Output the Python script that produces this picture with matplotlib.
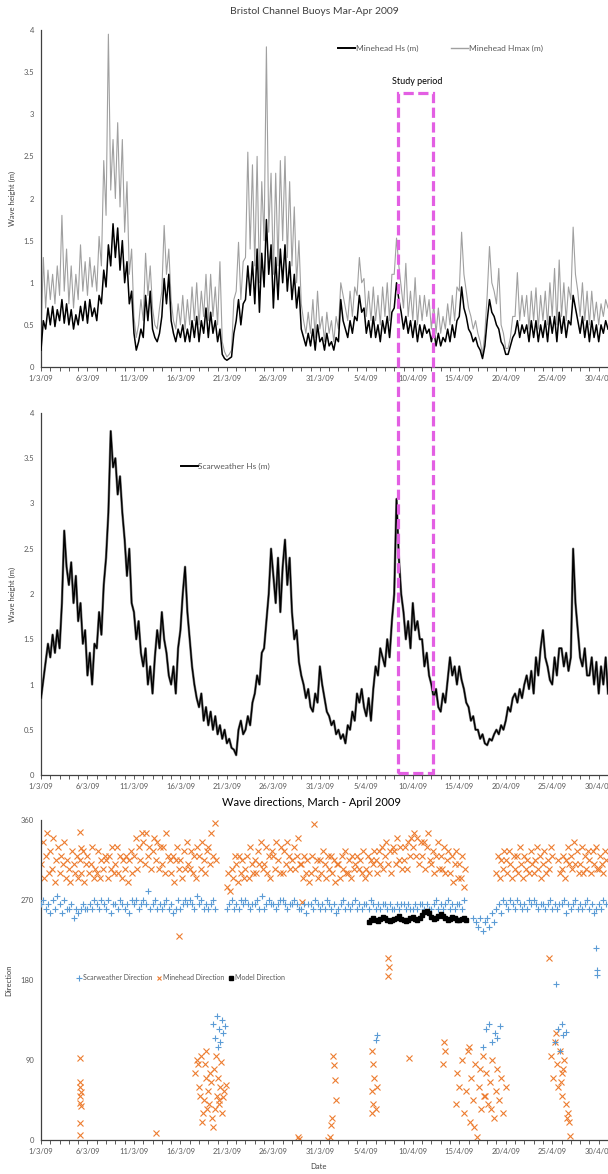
import numpy as np
import matplotlib
matplotlib.use("Agg")
import matplotlib.pyplot as plt
from matplotlib.patches import Rectangle
from matplotlib.lines import Line2D
import matplotlib.transforms as mtransforms

plt.rcParams['font.family'] = ['Lato', 'DejaVu Sans']

# ---------------- DATA ----------------
tick_days = [0, 5, 10, 15, 20, 25, 30, 35, 40, 45, 50, 55, 60]
tick_labels = ["1/3/09", "6/3/09", "11/3/09", "16/3/09", "21/3/09", "26/3/09", "31/3/09",
               "5/4/09", "10/4/09", "15/4/09", "20/4/09", "25/4/09", "30/4/09"]

# Minehead Hs (m), 4 samples per day from 1 Mar
minehead_hs = [
    .20, .55, .45, .70,  .50, .72, .48, .68,  .55, .80, .52, .75,  .50, .68, .45, .62,
    .50, .72, .55, .78,  .52, .80, .60, .70,  .55, .85, .75, 1.15, .95, 1.45, 1.20, 1.70,
    1.30, 1.65, 1.15, 1.50, 1.00, 1.25, .75, .90, .40, .20, .30, .45, .35, .85, .55, .90,
    .45, .35, .30, .40,  .60, 1.05, .75, 1.10, .55, .40, .30, .45, .35, .50, .30, .45,
    .30, .55, .35, .60,  .30, .55, .40, .70,  .35, .65, .40, .55,  .30, .45, .15, .10,
    .08, .10, .12, .40,  .55, .80, .50, .75,  .80, 1.20, .85, 1.25, .75, 1.40, .65, 1.35,
    .95, 1.75, 1.10, 1.45, .70, 1.30, .80, 1.40, 1.00, 1.45, .90, 1.25, .80, 1.10, .70, .95,
    .45, .35, .25, .40,  .25, .45, .20, .50,  .30, .35, .20, .40,  .25, .30, .20, .35,
    .30, .80, .55, .45,  .35, .55, .40, .60,  .55, .85, .65, .70,  .40, .55, .35, .60,
    .35, .50, .30, .55,  .40, .60, .35, .65,  .70, 1.00, .80, .65, .45, .60, .40, .55,
    .35, .55, .30, .50,  .35, .50, .40, .45,  .30, .45, .25, .40,  .25, .35, .30, .45,
    .30, .50, .35, .55,  .60, .95, .70, .60,  .45, .40, .30, .35,  .25, .20, .10, .25,
    .55, .80, .65, .60,  .50, .45, .30, .25,  .15, .15, .25, .35,  .40, .55, .35, .50,
    .40, .50, .30, .55,  .35, .55, .30, .50,  .35, .55, .30, .60,  .40, .60, .30, .65,
    .40, .60, .35, .55,  .50, .85, .70, .55,  .40, .60, .35, .55,  .30, .55, .35, .50,
    .30, .50, .40, .55,  .45]

# Minehead Hmax (m), 4 samples per day
minehead_hmax = [
    .30, 1.30, .70, 1.15, .80, 1.10, .75, 1.20, .85, 1.80, .90, 1.40, .75, 1.20, .70, 1.10,
    .80, 1.45, .90, 1.25, .85, 1.30, .95, 1.20, .90, 1.55, 1.20, 2.45, 1.80, 3.95, 2.10, 2.70,
    2.00, 2.90, 1.90, 2.70, 1.60, 2.20, 1.10, 1.40, .60, .35, .50, .80, .55, 1.35, .85, 1.20,
    .70, .50, .45, .70,  .90, 1.68, 1.10, 1.40, .80, .55, .45, .75, .50, .85, .45, .80,
    .50, .95, .55, 1.00, .50, .90, .60, 1.10, .55, 1.10, .60, .95, .50, 1.25, .30, .18,
    .12, .15, .20, .80,  .90, 1.48, .80, 1.25, 1.30, 2.55, 1.40, 2.40, 1.20, 2.50, 1.00, 2.20,
    1.50, 3.80, 1.60, 2.30, 1.10, 2.30, 1.20, 2.45, 1.50, 2.50, 1.30, 2.20, 1.20, 1.90, 1.00, 1.50,
    .75, .55, .40, .65,  .40, .80, .35, .90,  .45, .60, .30, .65,  .40, .55, .30, .60,
    .45, 1.00, .85, .70, .55, .90, .60, .95,  .85, 1.30, 1.00, 1.05, .60, .90, .55, .95,
    .55, .85, .50, .95,  .60, 1.00, .55, 1.10, 1.10, 1.53, 1.20, .95, .70, 1.23, .60, .90,
    .55, 1.06, .50, .85, .55, .85, .60, .80,  .45, .75, .40, .70,  .40, .60, .45, .75,
    .50, .85, .55, .95,  .90, 1.60, 1.10, .90, .70, .60, .45, .55,  .40, .30, .15, .40,
    .85, 1.43, 1.00, .90, .75, 1.17, .50, .40, .22, .22, .35, .60,  .60, 1.12, .55, .85,
    .60, .85, .45, .90,  .55, .94, .45, .85,  .55, .90, .50, 1.00, .60, 1.17, .50, 1.27,
    .60, 1.00, .55, .95, .80, 1.66, 1.10, .90, .60, 1.00, .55, .90, .50, .90, .55, .77,
    .50, .75, .60, .80,  .70]

# Scarweather Hs (m), 4 samples per day
scarweather_hs = [
    .85, 1.05, 1.25, 1.45, 1.30, 1.55, 1.35, 1.60, 1.40, 1.90, 2.70, 2.30, 2.10, 2.35, 1.90, 2.20,
    1.70, 1.90, 1.45, 1.60, 1.10, 1.35, 1.00, 1.45, 1.40, 1.80, 1.55, 2.10, 2.40, 2.90, 3.80, 3.40,
    3.50, 3.10, 3.30, 2.90, 2.60, 2.20, 2.50, 1.90, 1.80, 1.50, 1.70, 1.35, 1.20, 1.40, 1.00, 1.20,
    .90, 1.30, 1.60, 1.40, 1.80, 1.50, 1.35, 1.10, 1.00, 1.20, .90, 1.40, 1.60, 2.00, 2.30, 1.80,
    1.50, 1.20, 1.00, .85, .75, .90, .60, .75,  .55, .70, .50, .65,  .45, .55, .40, .50,
    .35, .40, .30, .28,  .22, .50, .60, .45,  .50, .65, .55, .80,  .90, 1.10, 1.00, 1.35,
    1.40, 1.70, 2.00, 2.50, 2.20, 1.90, 2.40, 1.80, 2.30, 2.60, 2.10, 2.40, 1.80, 1.50, 1.60, 1.25,
    1.10, 1.00, .85, .95, .75, .70, .90, .80,  1.20, 1.00, .85, .70, .65, .55, .60, .45,
    .50, .40, .45, .35,  .55, .50, .70, .60,  .90, .80, .95, .75,  .65, .85, .60, .95,
    1.20, 1.10, 1.40, 1.30, 1.20, 1.50, 1.30, 1.70, 2.00, 3.05, 2.40, 2.00, 1.80, 1.50, 1.70, 1.40,
    1.90, 1.60, 1.70, 1.50, 1.50, 1.20, 1.35, 1.10, 1.00, .85, .95, .75, .70, .90, .80, 1.05,
    1.30, 1.10, 1.20, 1.00, 1.20, 1.05, .95, .80, .75, .60, .65, .50,  .50, .40, .45, .35,
    .33, .40, .38, .45,  .50, .45, .55, .50,  .60, .75, .70, .85,  .90, .80, .95, .85,
    1.00, 1.10, .95, 1.15, .90, 1.30, 1.10, 1.40, 1.60, 1.30, 1.20, 1.05, 1.00, 1.30, 1.10, 1.40,
    1.40, 1.20, 1.35, 1.15, 1.30, 2.50, 1.90, 1.60, 1.30, 1.20, 1.40, 1.10, 1.10, 1.30, 1.00, 1.25,
    .90, 1.20, 1.00, 1.30, .90]

nan = float('nan')
# Minehead direction (deg), 6 samples per day
minehead_dir = [
    310, 335, 295, 320, 345, 300,  325, 305, 340, 290, 315, 330,  300, 320, 310, 335, 295, 315,
    305, 290, 325, 310, 300, 320,  295, 315, 300, 325, 290, 310,  320, 300, 310, 330, 295, 305,
    300, 325, 295, 315, 305, 320,  315, 295, 320, 305, 330, 300,  310, 330, 300, 320, 295, 315,
    305, 320, 290, 315, 325, 300,  320, 340, 305, 330, 315, 345,  335, 310, 345, 320, 330, 305,
    325, 340, 315, 335, 305, 330,  310, 330, 300, 345, 320, 315,  300, 320, 290, 315, 330, 305,
    315, 295, 325, 305, 335, 310,  305, 325, 300, 320, 295, 330,  320, 305, 335, 315, 300, 325,
    330, 310, 345, 320, 357, 315,  nan, nan, nan, nan, nan, nan,  285, 300, 280, 305, 295, 320,
    310, 290, 320, 300, 315, 295,  305, 320, 295, 330, 310, 300,  315, 300, 325, 310, 335, 305,
    310, 330, 300, 320, 295, 325,  320, 305, 335, 315, 300, 330,  300, 325, 310, 335, 320, 305,
    315, 330, 305, 320, 340, 310,  310, 295, 320, 300, 315, 290,  300, 320, 355, 305, 315, 295,
    315, 300, 325, 310, 295, 320,  305, 320, 300, 315, 290, 310,  310, 295, 320, 305, 325, 300,
    300, 315, 295, 320, 305, 310,  320, 305, 315, 300, 325, 295,  305, 320, 300, 315, 310, 325,
    315, 300, 325, 310, 330, 305,  320, 335, 310, 325, 300, 330,  325, 310, 340, 315, 330, 305,
    315, 330, 305, 335, 320, 340,  330, 345, 320, 340, 310, 335,  320, 335, 305, 330, 345, 315,
    310, 325, 300, 320, 335, 305,  320, 305, 330, 300, 315, 325,  300, 320, 290, 310, 325, 295,
    310, 295, 320, 285, 305, nan,  nan, nan, nan, nan, nan, nan,  nan, nan, nan, nan, nan, nan,
    nan, nan, nan, nan, nan, nan,  300, 320, 295, 315, 305, 325,  315, 300, 325, 310, 295, 320,
    305, 320, 300, 330, 310, 295,  320, 305, 315, 300, 325, 310,  300, 315, 330, 305, 320, 295,
    310, 325, 300, 315, 305, 330,  320, nan, nan, nan, 315, 300,  305, 320, 295, 315, 330, 310,
    320, 305, 335, 310, 325, 300,  310, 330, 300, 320, 305, 325,  315, 300, 325, 310, 330, 305,
    305, 320, 310, 300, 325, 315]

# Scarweather direction (deg), 4 samples per day
scarweather_dir = [
    265, 270, 260, 265,  255, 270, 260, 275,  265, 255, 270, 260,  260, 265, 250, 260,
    255, 260, 265, 260,  260, 265, 260, 270,  265, 260, 270, 265,  260, 270, 255, 265,
    265, 260, 270, 265,  260, 265, 255, 270,  265, 270, 260, 265,  270, 265, 280, 260,
    265, 270, 260, 265,  260, 265, 270, 260,  265, 255, 260, 270,  260, 265, 270, 265,
    270, 265, 260, 275,  265, 270, 260, 265,  260, 265, 270, 260,  nan, nan, nan, nan,
    260, 265, 270, 260,  265, 260, 270, 265,  270, 265, 260, 265,  265, 270, 260, 275,
    260, 265, 270, 265,  265, 260, 265, 270,  270, 265, 260, 265,  265, 270, 265, 260,
    260, 265, 255, 265,  265, 260, 270, 265,  260, 265, 260, 270,  265, 260, 265, 255,
    260, 265, 270, 260,  265, 260, 265, 270,  260, 265, 260, 265,  265, 260, 270, 265,
    260, 265, 260, 265,  265, 260, 265, 260,  260, 265, 260, 265,  265, 260, 265, 260,
    260, 265, 260, 265,  265, 260, 265, 260,  260, 265, 270, 260,  265, 260, 265, 270,
    260, 265, 260, 265,  265, 260, 270, nan,  nan, nan, 250, 245,  240, 250, 235, 245,
    250, 240, 255, 245,  260, 265, 255, 270,  265, 260, 270, 265,  260, 270, 265, 260,
    265, 260, 270, 265,  270, 265, 260, 265,  265, 260, 265, 270,  260, 265, 260, 265,
    265, 270, 255, 265,  260, 265, 270, 260,  265, 260, 265, 270,  260, 265, 255, 260,
    265, 260, 270, 265]

# Minehead direction outliers (day offset, deg)
minehead_low_day = [4.15, 4.2, 4.2, 4.25, 4.2, 4.15, 4.25, 4.2, 4.2, 4.2, 4.25,
                    12.4, 14.8,
                    16.6, 16.9, 17.0, 17.2, 17.4, 17.5, 17.7, 17.8, 18.0, 18.1,
                    18.3, 18.4, 18.6, 18.7, 18.9, 19.0, 19.2, 19.3, 19.5, 19.7,
                    16.8, 17.1, 17.3, 17.6, 17.9, 18.2, 18.5, 18.8, 19.1, 19.4, 19.6, 19.9,
                    27.6, 27.8, 28.1,
                    30.9, 31.1, 31.2, 31.3, 31.4, 31.5, 31.6, 31.7,
                    35.6, 35.7, 35.6, 35.8, 35.7, 35.6, 36.0, 36.1, 37.3, 37.4, 37.3,
                    39.6, 43.3, 43.5, 43.4,
                    44.6, 44.8, 45.0, 45.3, 45.5, 45.7, 45.9, 46.1, 46.3, 46.5,
                    46.7, 46.9, 47.1, 47.3, 47.5, 47.7, 47.9, 48.1, 48.3, 48.5,
                    48.7, 48.9, 49.1, 49.3, 49.5, 49.7, 50.0, 46.0, 46.6, 47.2, 47.8, 48.4,
                    54.7,
                    54.9, 55.1, 55.3, 55.5, 55.6, 55.8, 56.0, 56.1, 56.3, 56.5, 56.7, 56.9,
                    55.4, 55.9, 56.2, 56.6, 56.8]
minehead_low_dir = [92, 65, 60, 54, 50, 42, 38, 19, 6, 346, 328,
                    8, 230,
                    75, 85, 60, 95, 30, 45, 70, 100, 55, 40,
                    65, 25, 80, 35, 50, 70, 45, 60, 30, 55,
                    90, 50, 20, 85, 35, 75, 15, 95, 40, 88, 48, 62,
                    3, 1, 268,
                    0, 3, 17, 25, 95, 84, 67, 45,
                    30, 40, 55, 70, 85, 100, 35, 60, 185, 195, 205,
                    92, 85, 100, 110,
                    40, 75, 60, 90, 30, 55, 100, 20, 70, 45,
                    85, 3, 60, 35, 95, 50, 75, 40, 65, 90,
                    25, 55, 80, 45, 70, 30, 60, 105, 15, 80, 50, 35,
                    205,
                    95, 70, 110, 85, 60, 100, 75, 50, 90, 40, 30, 5,
                    120, 65, 80, 25, 20]

# Scarweather direction outliers (day offset, deg)
scarweather_low_day = [18.5, 18.7, 18.9, 19.0, 19.2, 19.3, 19.5, 19.6, 19.8,
                       36.0, 36.1,
                       47.6, 47.9, 48.2, 48.5, 48.8, 49.1, 49.4,
                       55.3, 55.6, 55.8, 56.0, 56.2, 56.5, 55.4,
                       59.7, 59.8, 59.8]
scarweather_low_dir = [130, 115, 140, 105, 125, 110, 135, 120, 128,
                       112, 118,
                       105, 125, 130, 110, 120, 115, 128,
                       110, 125, 100, 130, 118, 122, 175,
                       216, 191, 186]

# Model direction, 4 samples per day starting 5 Apr 06:00 (day 35.25)
model_start_day = 35.25
model_dir = [245, 247, 250, 248, 246, 249, 251, 250, 248, 246, 247, 249, 250, 252,
             249, 247, 246, 248, 250, 251, 249, 248, 250, 253, 256, 258, 255, 251,
             249, 250, 252, 254, 252, 250, 248, 249, 251, 250, 248, 247, 249, 250, 248]

study_start_day, study_end_day = 38.4, 42.15

# ---------------- FIGURE ----------------
W, H = 608, 1174
fig = plt.figure(figsize=(W / 100, H / 100), dpi=100)


def ax_rect(l, t, r, b):
    return [l / W, 1 - b / H, (r - l) / W, (b - t) / H]


ax1 = fig.add_axes(ax_rect(41, 30, 608, 367))
ax2 = fig.add_axes(ax_rect(41, 413, 608, 775))
ax3 = fig.add_axes(ax_rect(41, 820, 608, 1140))

TXT = '#595959'
SP = '#404040'


def style(ax, ymax, yt, ytl):
    for s in ['top', 'right']:
        ax.spines[s].set_visible(False)
    for s in ['left', 'bottom']:
        ax.spines[s].set_color(SP)
        ax.spines[s].set_linewidth(0.9)
    ax.set_xlim(0, 61)
    ax.set_ylim(0, ymax)
    ax.set_xticks(tick_days)
    ax.set_xticklabels(tick_labels, fontsize=5.5, color=TXT)
    ax.set_xticks(np.arange(0, 62), minor=True)
    ax.tick_params(axis='x', which='both', direction='out', length=3, width=0.6, color=SP, pad=2.5)
    ax.set_yticks(yt)
    ax.set_yticklabels(ytl, fontsize=5.5, color=TXT)
    ax.tick_params(axis='y', length=0, pad=5)


hy = [0, 0.5, 1, 1.5, 2, 2.5, 3, 3.5, 4]
hyl = ["0", "0.5", "1", "1.5", "2", "2.5", "3", "3.5", "4"]

# Panel 1
t1 = np.arange(len(minehead_hmax)) / 4
t1b = np.arange(len(minehead_hs)) / 4
ax1.plot(t1, minehead_hmax, color='#A0A0A0', lw=0.8, zorder=2)
ax1.plot(t1b, minehead_hs, color='black', lw=1.1, zorder=3)
style(ax1, 4, hy, hyl)
ax1.set_ylabel("Wave height (m)", fontsize=5.5, color='#404040')
ax1.yaxis.set_label_coords(-0.044, 0.5)
h1 = [Line2D([], [], color='black', lw=1.4), Line2D([], [], color='#A0A0A0', lw=1.0)]
fig.legend(h1, ["Minehead Hs (m)", "Minehead Hmax (m)"], loc='center left',
           bbox_to_anchor=(338 / W, 1 - 48 / H), ncol=2, frameon=False, fontsize=6,
           handlelength=2.0, handletextpad=0.1, columnspacing=4.0, labelcolor=TXT,
           borderaxespad=0, borderpad=0)

# Panel 2
t2 = np.arange(len(scarweather_hs)) / 4
ax2.plot(t2, scarweather_hs, color='#808080', lw=1.8, zorder=2)
ax2.plot(t2, scarweather_hs, color='black', lw=1.0, zorder=3)
style(ax2, 4, hy, hyl)
ax2.set_ylabel("Wave height (m)", fontsize=5.5, color='#404040')
ax2.yaxis.set_label_coords(-0.044, 0.5)
fig.legend([Line2D([], [], color='black', lw=1.4)], ["Scarweather Hs (m)"], loc='center left',
           bbox_to_anchor=(181 / W, 1 - 466 / H), frameon=False, fontsize=6,
           handlelength=2.0, handletextpad=0.1, labelcolor=TXT, borderaxespad=0, borderpad=0)

# Panel 3
BLUE = '#5B9BD5'
ORANGE = '#ED7D31'
t3o = np.arange(len(minehead_dir)) / 6
t3b = np.arange(len(scarweather_dir)) / 4
tm = model_start_day + np.arange(len(model_dir)) / 4
ax3.plot(t3b, scarweather_dir, ls='none', marker='+', ms=5, mew=0.8, color=BLUE, zorder=3)
ax3.plot(scarweather_low_day, scarweather_low_dir, ls='none', marker='+', ms=5, mew=0.8,
         color=BLUE, zorder=3)
ax3.plot(t3o, minehead_dir, ls='none', marker='x', ms=4.2, mew=0.8, color=ORANGE, zorder=2)
ax3.plot(minehead_low_day, minehead_low_dir, ls='none', marker='x', ms=4.2, mew=0.8,
         color=ORANGE, zorder=2)
ax3.plot(tm, model_dir, ls='none', marker='s', ms=2.6, color='black', zorder=4)
style(ax3, 360, [0, 90, 180, 270, 360], ["0", "90", "180", "270", "360"])
ax3.set_ylabel("Direction", fontsize=5.5, color='#404040')
ax3.yaxis.set_label_coords(-0.051, 0.5)
ax3.set_xlabel("Date", fontsize=5.5, color='#404040')
ax3.xaxis.set_label_coords(0.489, -0.072)
h3 = [Line2D([], [], ls='none', marker='+', ms=4, mew=0.8, color=BLUE),
      Line2D([], [], ls='none', marker='x', ms=3.5, mew=0.8, color=ORANGE),
      Line2D([], [], ls='none', marker='s', ms=2.5, color='black')]
fig.legend(h3, ["Scarweather Direction", "Minehead Direction", "Model Direction"],
           loc='center left', bbox_to_anchor=(76 / W, 1 - 978 / H), ncol=3, frameon=False,
           fontsize=5, handlelength=0.8, handletextpad=0.15, columnspacing=0.6,
           labelcolor=TXT, borderaxespad=0, borderpad=0)

# Titles
fig.text(314 / W, 1 - 12 / H, "Bristol Channel Buoys Mar-Apr 2009", ha='center', va='center',
         fontsize=7.5, color='#404040')
fig.text(312 / W, 1 - 803 / H, "Wave directions, March - April 2009", ha='center', va='center',
         fontsize=8, color='black')

# Study period box spanning panels 1 and 2
tr = mtransforms.blended_transform_factory(ax1.transData, fig.transFigure)
y_top = 1 - 93 / H
y_bot = 1 - 773 / H
rect = Rectangle((study_start_day, y_bot), study_end_day - study_start_day, y_top - y_bot,
                 transform=tr, fill=False, edgecolor='#E35FE3', lw=2.3,
                 linestyle=(0, (3.2, 1.4)), clip_on=False, zorder=10)
fig.add_artist(rect)
fig.text(417 / W, 1 - 82 / H, "Study period", ha='center', va='center', fontsize=6.5,
         color='black')

fig.savefig("out.png", dpi=100)
